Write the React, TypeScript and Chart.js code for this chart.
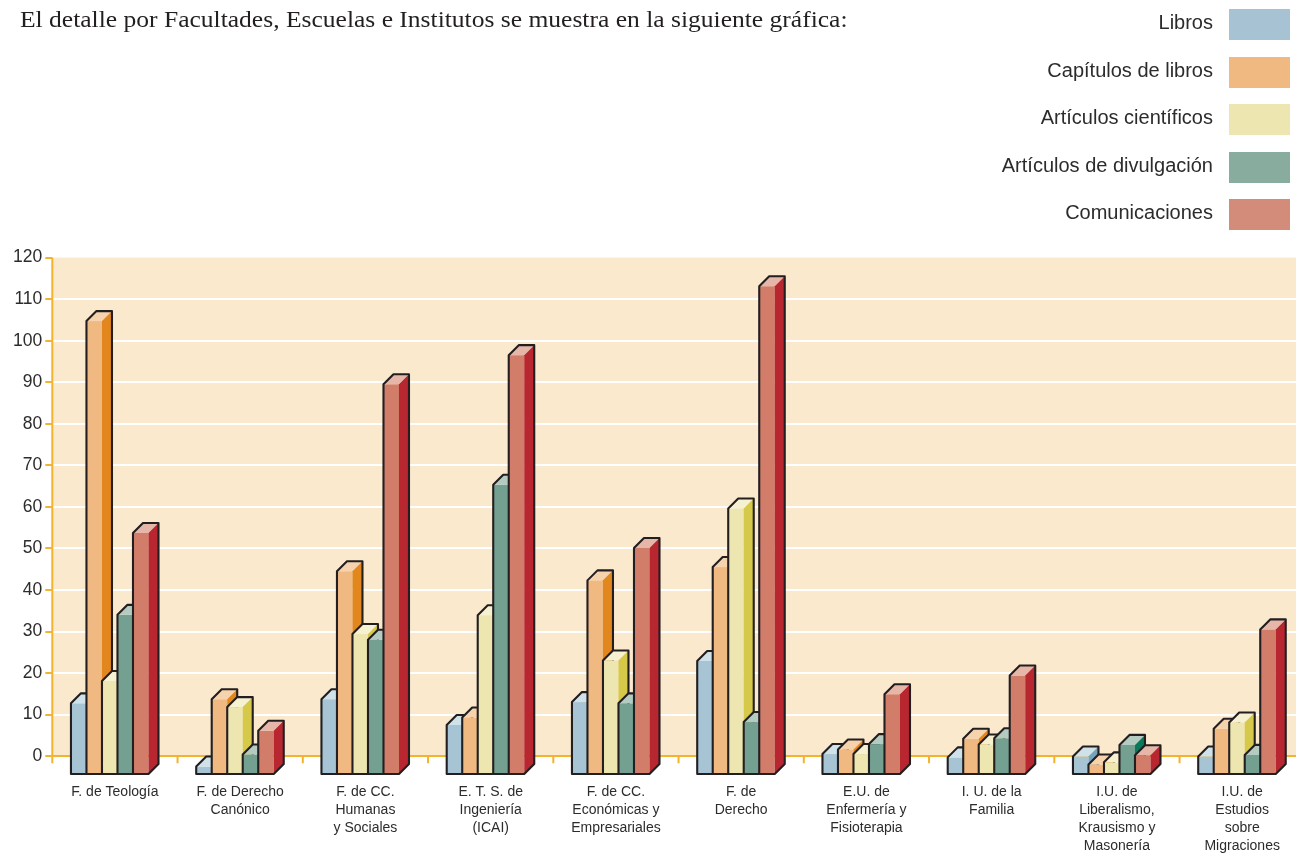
import React, { useEffect, useRef } from "react";
import { Chart, registerables } from "chart.js";

Chart.register(...registerables);

// ---------------- data ----------------
const CATEGORIES: string[][] = [
  ["F. de Teología"],
  ["F. de Derecho", "Canónico"],
  ["F. de CC.", "Humanas", "y Sociales"],
  ["E. T. S. de", "Ingeniería", "(ICAI)"],
  ["F. de CC.", "Económicas y", "Empresariales"],
  ["F. de", "Derecho"],
  ["E.U. de", "Enfermería y", "Fisioterapia"],
  ["I. U. de la", "Familia"],
  ["I.U. de", "Liberalismo,", "Krausismo y", "Masonería"],
  ["I.U. de", "Estudios", "sobre", "Migraciones"],
];
const SERIES_NAMES = [
  "Libros",
  "Capítulos de libros",
  "Artículos científicos",
  "Artículos de divulgación",
  "Comunicaciones",
];
const LIBROS = [17, 1.8, 18, 11.8, 17.3, 27.2, 4.8, 4, 4.2, 4.2];
const CAPITULOS = [109, 18, 48.8, 13.6, 46.6, 49.8, 5.9, 8.5, 2.3, 10.9];
const ARTICULOS_CIENTIFICOS = [22.4, 16.1, 33.7, 38.2, 27.3, 63.9, 4.8, 7.1, 2.8, 12.4];
const ARTICULOS_DIVULGACION = [38.3, 4.7, 32.3, 69.6, 17, 12.5, 7.2, 8.6, 7, 4.6];
const COMUNICACIONES = [58, 10.4, 93.8, 100.8, 54.4, 117.4, 19.2, 23.7, 4.5, 34.8];
const Y_TICKS = [0, 10, 20, 30, 40, 50, 60, 70, 80, 90, 100, 110, 120];

// ---------------- style ----------------
const Y_MAX = 120;
const FLOOR_DEPTH = 4.28; // value units between the back wall baseline and the bar fronts
const DEPTH_PX = 10;
const BAR_SHIFT = -5.2;
const WALL = "#FBE9CE";
const YELLOW = "#F2B32E";
const OUTLINE = "#231F20";
const TEXT = "#2E2B2C";
const LEGEND_COLORS = ["#A7C3D3", "#F0B982", "#EDE6B0", "#88AC9D", "#D48C7A"];
const FRONT = ["#A6C4D4", "#F1B982", "#EEE6B0", "#73A091", "#D17D6A"];
const TOP = ["#CFE2EA", "#F6D3AC", "#F5F1D1", "#B4CBC2", "#E6B7A8"];
const SIDE = ["#76A3BC", "#E2871E", "#D6C848", "#0A785A", "#B82630"];
const SERIES_VALUES = [LIBROS, CAPITULOS, ARTICULOS_CIENTIFICOS, ARTICULOS_DIVULGACION, COMUNICACIONES];

const LEGEND_TOPS = [9, 57, 104, 152, 199];

const bars3d = {
  id: "bars3d",
  beforeDraw(chart: any) {
    const { ctx, chartArea, scales } = chart;
    const y = scales.y;
    const top = y.getPixelForValue(Y_MAX);
    const bottom = y.getPixelForValue(0);
    ctx.save();
    ctx.fillStyle = WALL;
    ctx.fillRect(chartArea.left, top, chart.width - chartArea.left, bottom - top);
    ctx.restore();
  },
  beforeDatasetsDraw(chart: any) {
    const { ctx, chartArea, scales } = chart;
    const y = scales.y;
    const x = scales.x;
    const top = y.getPixelForValue(Y_MAX);
    const zero = y.getPixelForValue(0);
    ctx.save();
    ctx.strokeStyle = YELLOW;
    ctx.lineWidth = 2;
    ctx.beginPath();
    ctx.moveTo(chartArea.left, top);
    ctx.lineTo(chartArea.left, zero + 7);
    for (let k = 1; k < CATEGORIES.length; k++) {
      const px = x.getPixelForValue(k - 0.5);
      ctx.moveTo(px, zero);
      ctx.lineTo(px, zero + 7);
    }
    ctx.stroke();
    ctx.restore();
  },
  beforeDatasetDraw() {
    return false;
  },
  afterDatasetsDraw(chart: any) {
    const { ctx } = chart;
    const D = DEPTH_PX;
    const n = CATEGORIES.length;
    ctx.save();
    ctx.lineJoin = "round";
    for (let i = 0; i < n; i++) {
      for (let j = 0; j < chart.data.datasets.length; j++) {
        const el = chart.getDatasetMeta(j).data[i];
        if (!el) continue;
        const p = el.getProps(["x", "y", "base", "width"], true);
        const L = p.x - p.width / 2 + BAR_SHIFT;
        const R = p.x + p.width / 2 + BAR_SHIFT;
        const T = p.y;
        const B = p.base;
        // front
        ctx.fillStyle = FRONT[j];
        ctx.fillRect(L, T, R - L, B - T);
        // top
        ctx.fillStyle = TOP[j];
        ctx.beginPath();
        ctx.moveTo(L, T);
        ctx.lineTo(L + D, T - D);
        ctx.lineTo(R + D, T - D);
        ctx.lineTo(R, T);
        ctx.closePath();
        ctx.fill();
        // side
        ctx.fillStyle = SIDE[j];
        ctx.beginPath();
        ctx.moveTo(R, T);
        ctx.lineTo(R + D, T - D);
        ctx.lineTo(R + D, B - D);
        ctx.lineTo(R, B);
        ctx.closePath();
        ctx.fill();
        // outline
        ctx.strokeStyle = OUTLINE;
        ctx.lineWidth = 2.1;
        ctx.beginPath();
        ctx.moveTo(L, B);
        ctx.lineTo(L, T);
        ctx.lineTo(L + D, T - D);
        ctx.lineTo(R + D, T - D);
        ctx.lineTo(R + D, B - D);
        ctx.lineTo(R, B);
        ctx.closePath();
        ctx.stroke();
      }
    }
    ctx.restore();
  },
};

export default function App() {
  const canvasRef = useRef<HTMLCanvasElement | null>(null);

  useEffect(() => {
    if (!canvasRef.current) return;
    const chart = new Chart(canvasRef.current, {
      type: "bar",
      data: {
        labels: CATEGORIES,
        datasets: SERIES_NAMES.map((name, j) => ({
          label: name,
          data: SERIES_VALUES[j],
          backgroundColor: LEGEND_COLORS[j],
          yAxisID: "yb",
          xAxisID: "x",
        })),
      },
      options: {
        responsive: false,
        animation: false,
        events: [],
        layout: { padding: { top: 257.6, right: 5.2, left: 0, bottom: 0 } },
        datasets: { bar: { categoryPercentage: 0.619, barPercentage: 1 } },
        plugins: { legend: { display: false }, tooltip: { enabled: false } },
        scales: {
          x: {
            type: "category",
            grid: { display: false, drawTicks: false },
            border: { display: false },
            ticks: {
              autoSkip: false,
              maxRotation: 0,
              minRotation: 0,
              padding: 9,
              color: TEXT,
              font: { family: "'Liberation Sans', Arial, sans-serif", size: 14, lineHeight: 1.2857 },
            },
            afterFit: (s: any) => {
              s.height = 80;
            },
          },
          y: {
            type: "linear",
            position: "left",
            min: -FLOOR_DEPTH,
            max: Y_MAX,
            afterBuildTicks: (s: any) => {
              s.ticks = Y_TICKS.map((v) => ({ value: v }));
            },
            grid: {
              color: (c: any) =>
                c.tick && c.tick.value === 0 ? YELLOW : c.tick && c.tick.value === Y_MAX ? "rgba(0,0,0,0)" : "#FFFFFF",
              lineWidth: 2,
              tickColor: YELLOW,
              tickLength: 7,
              tickWidth: 2,
            },
            border: { display: false },
            ticks: {
              padding: 3,
              color: TEXT,
              font: { family: "'Liberation Sans', Arial, sans-serif", size: 17.5 },
              callback: (v: any) => String(v),
            },
            afterFit: (s: any) => {
              s.width = 52.3;
            },
          },
          yb: {
            type: "linear",
            display: false,
            min: 0,
            max: Y_MAX + FLOOR_DEPTH,
          },
        },
      },
      plugins: [bars3d],
    } as any);
    return () => chart.destroy();
  }, []);

  return (
    <div
      style={{
        position: "absolute",
        left: 0,
        top: 0,
        width: 1296,
        height: 854,
        overflow: "hidden",
        background: "#FFFFFF",
      }}
    >
      <canvas ref={canvasRef} width={1310} height={854} style={{ display: "block", position: "absolute", left: 0, top: 0 }} />
      <div
        style={{
          position: "absolute",
          left: 20,
          top: 6,
          fontFamily: "'Liberation Serif', 'Times New Roman', serif",
          fontSize: 24,
          lineHeight: "26px",
          color: "#231F20",
          whiteSpace: "nowrap",
          transform: "scaleX(1.064)",
          transformOrigin: "0 0",
        }}
      >
        El detalle por Facultades, Escuelas e Institutos se muestra en la siguiente gráfica:
      </div>
      {SERIES_NAMES.map((name, j) => (
        <React.Fragment key={name}>
          <div
            style={{
              position: "absolute",
              left: 0,
              width: 1213,
              top: LEGEND_TOPS[j] - 2,
              height: 31,
              lineHeight: "31px",
              textAlign: "right",
              fontFamily: "'Liberation Sans', Arial, sans-serif",
              fontSize: 20,
              color: TEXT,
              whiteSpace: "nowrap",
            }}
          >
            {name}
          </div>
          <div
            style={{
              position: "absolute",
              left: 1229,
              top: LEGEND_TOPS[j],
              width: 61,
              height: 31,
              background: LEGEND_COLORS[j],
            }}
          />
        </React.Fragment>
      ))}
    </div>
  );
}
